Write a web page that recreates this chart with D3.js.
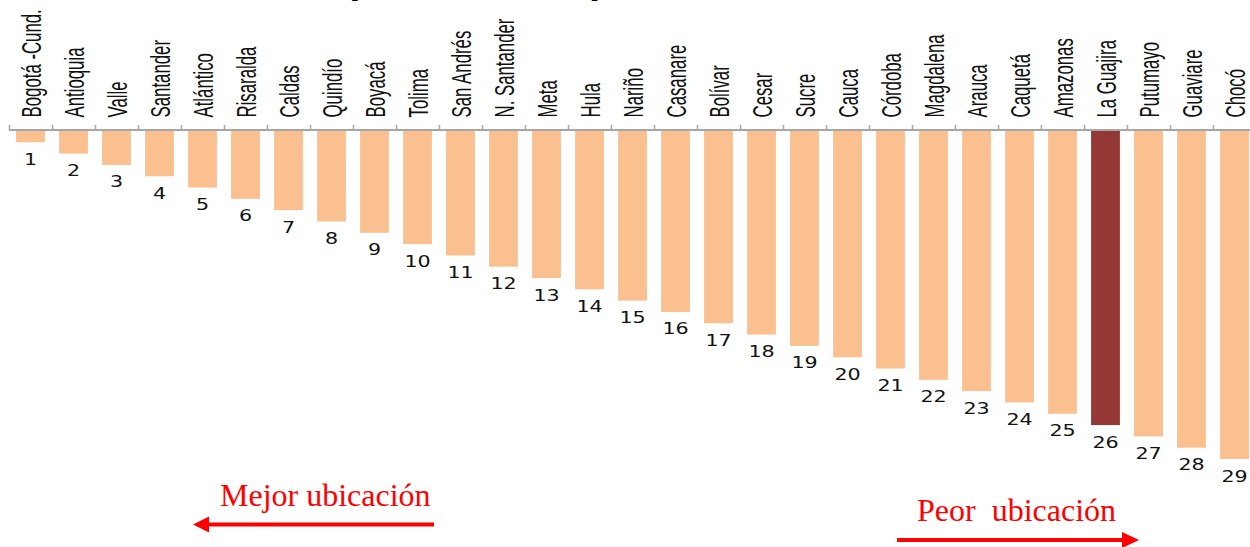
<!DOCTYPE html>
<html>
<head>
<meta charset="utf-8">
<script src="https://cdn.jsdelivr.net/npm/d3@7"></script>
<style>
  html, body { margin: 0; padding: 0; background: #fff; }
  svg { display: block; }
</style>
</head>
<body>
<svg id="chart" width="1250" height="547"></svg>
<script>
// ---- data ----
const categories = ["Bogotá -Cund.", "Antioquia", "Valle", "Santander", "Atlántico", "Risaralda", "Caldas", "Quindío", "Boyacá", "Tolima", "San Andrés", "N. Santander", "Meta", "Hula", "Nariño", "Casanare", "Bolívar", "Cesar", "Sucre", "Cauca", "Córdoba", "Magdalena", "Arauca", "Caquetá", "Amazonas", "La Guajira", "Putumayo", "Guaviare", "Chocó"];
const ranks = [1, 2, 3, 4, 5, 6, 7, 8, 9, 10, 11, 12, 13, 14, 15, 16, 17, 18, 19, 20, 21, 22, 23, 24, 25, 26, 27, 28, 29];
const highlighted = ["La Guajira"];
const titleText = "Posición departamental por ubicación";
const leftNote = "Mejor ubicación";
const rightNote = "Peor  ubicación";

const svg = d3.select("#chart");

const x = d3.scaleBand().domain(categories).range([9, 1256]).paddingInner(0.33).paddingOuter(0.165);
const xEdge = d3.scaleLinear().domain([0, categories.length]).range([9, 1256]);
const y = d3.scaleLinear().domain([0, 29]).range([131, 459]);

// title (mostly above the visible area)
const title = svg.append("text")
  .attr("font-family", "Liberation Sans, Arial, sans-serif")
  .attr("font-weight", "bold")
  .attr("font-size", 40)
  .attr("fill", "#000")
  .attr("x", 0).attr("y", 0)
  .text(titleText);
(function placeTitle() {
  const n = title.node();
  const i1 = titleText.indexOf("p"), i2 = titleText.indexOf("p", i1 + 1);
  const d = n.getStartPositionOfChar(i2).x - n.getStartPositionOfChar(i1).x;
  const fs = 40 * 240 / d;
  title.attr("font-size", fs);
  const p1 = n.getStartPositionOfChar(i1).x;
  title.attr("x", 352 - p1 - 0.07 * fs).attr("y", 1 - 0.21 * fs);
})();

// axis
const axis = d3.axisTop(xEdge).tickValues(d3.range(0, categories.length + 1)).tickSize(5).tickFormat("");
const gAxis = svg.append("g").attr("transform", "translate(0,130)").call(axis);
gAxis.select(".domain").attr("stroke", "#a6a6a6").attr("stroke-width", 2).attr("d", "M9,0H1256");
gAxis.selectAll(".tick line").attr("stroke", "#a6a6a6").attr("stroke-width", 1.5);

// bars
svg.append("g").selectAll("rect").data(categories).join("rect")
  .attr("x", d => x(d))
  .attr("y", y(0))
  .attr("width", x.bandwidth())
  .attr("height", (d, i) => y(ranks[i]) - y(0))
  .attr("fill", d => highlighted.includes(d) ? "#953735" : "#FAC090");

// value labels
svg.append("g").selectAll("text").data(categories).join("text")
  .attr("transform", (d, i) => `translate(${x(d) + x.bandwidth() / 2},${y(ranks[i]) + 22.5}) scale(1.25,1)`)
  .attr("text-anchor", "middle")
  .attr("font-family", "DejaVu Sans, Verdana, sans-serif")
  .attr("font-size", 16.5)
  .attr("fill", "#111")
  .text((d, i) => ranks[i]);

// category labels
svg.append("g").selectAll("text").data(categories).join("text")
  .attr("transform", d => `translate(${x(d) + x.bandwidth() / 2 + 10},117.5) rotate(-90) scale(0.6,1)`)
  .attr("text-anchor", "start")
  .attr("font-family", "Liberation Sans, Arial, sans-serif")
  .attr("font-size", 28)
  .attr("fill", "#111")
  .text(d => d);

// annotations
const red = "#FF0000";
svg.append("text").attr("x", 220).attr("y", 506)
  .attr("font-family", "Liberation Serif, Times New Roman, serif")
  .attr("font-size", 32).attr("fill", red).text(leftNote);
svg.append("line").attr("x1", 434).attr("x2", 205).attr("y1", 524.5).attr("y2", 524.5)
  .attr("stroke", red).attr("stroke-width", 4);
svg.append("path").attr("d", "M193,524.5L209,516.5L209,532.5Z").attr("fill", red);

svg.append("text").attr("x", 917).attr("y", 521)
  .attr("font-family", "Liberation Serif, Times New Roman, serif")
  .attr("font-size", 32).attr("fill", red).style("white-space", "pre").text(rightNote);
svg.append("line").attr("x1", 897).attr("x2", 1126).attr("y1", 540).attr("y2", 540)
  .attr("stroke", red).attr("stroke-width", 4);
svg.append("path").attr("d", "M1139,540L1122,532L1122,548Z").attr("fill", red);
</script>
</body>
</html>
